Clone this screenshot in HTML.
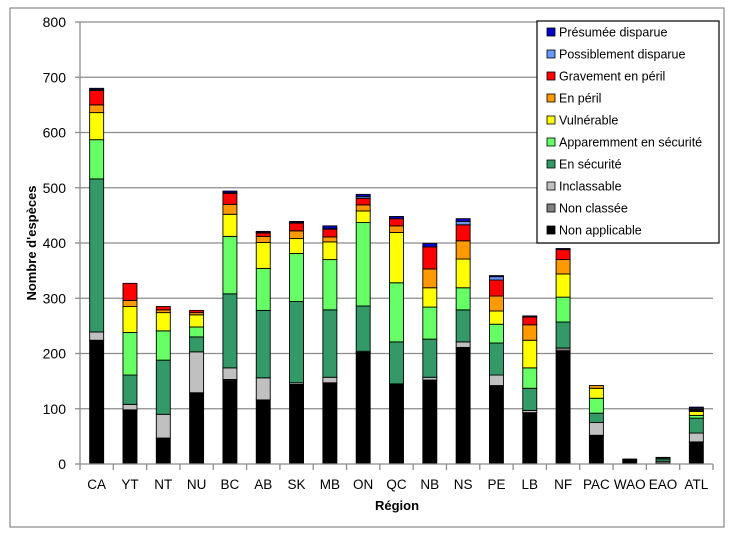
<!DOCTYPE html>
<html><head><meta charset="utf-8"><style>
body{margin:0;background:#fff;font-family:"Liberation Sans",sans-serif;}
svg text{font-family:"Liberation Sans",sans-serif;}
</style></head><body>
<svg id="chart" width="739" height="537" xmlns="http://www.w3.org/2000/svg">
<rect x="10" y="8" width="714" height="519" fill="#fff" stroke="#888" stroke-width="1.2"/>
<g id="grid"></g><g id="bars"></g><g id="axes"></g><g id="legend"></g>
<text x="36" y="243" transform="rotate(-90 36 243)" text-anchor="middle" font-size="13" font-weight="bold">Nombre d'espèces</text>
<text x="397" y="510" text-anchor="middle" font-size="13" font-weight="bold">Région</text>
</svg>
<script>
const categories=["CA","YT","NT","NU","BC","AB","SK","MB","ON","QC","NB","NS","PE","LB","NF","PAC","WAO","EAO","ATL"];
const seriesNames=["Non applicable","Non classée","Inclassable","En sécurité","Apparemment en sécurité","Vulnérable","En péril","Gravement en péril","Possiblement disparue","Présumée disparue"];
const seriesColors=["#000000","#808080","#c0c0c0","#339966","#66ff66","#ffff00","#ff9900","#ff0000","#6699ff","#0000cc"];
const nonApplicable=[224,98,47,129,151,116,144,147,201,145,152,211,142,93,205,52,9,2,40];
const nonClassee=[0,0,0,0,2,0,0,0,1,0,0,0,0,0,5,0,0,0,0];
const inclassable=[15,10,43,74,21,40,3,10,2,0,5,10,19,4,0,23,0,3,16];
const enSecurite=[277,53,98,27,134,122,147,122,82,76,69,58,58,40,47,17,0,4,27];
const apparemment=[71,77,53,18,104,76,87,91,151,107,58,40,34,37,45,27,0,2,5];
const vulnerable=[49,47,33,22,40,47,27,32,21,91,35,52,24,50,42,18,0,1,7];
const enPeril=[14,11,5,4,18,11,14,9,11,12,34,33,27,28,26,5,0,0,2];
const gravement=[26,31,6,4,20,6,14,14,12,13,40,29,29,14,18,0,0,0,2];
const possiblement=[2,0,0,0,1,1,1,1,3,0,0,6,6,0,0,0,0,0,2];
const presumee=[2,0,0,0,3,2,2,5,4,4,6,5,2,2,2,0,0,0,2];
const yTicks=[0,100,200,300,400,500,600,700,800];
const series=[nonApplicable,nonClassee,inclassable,enSecurite,apparemment,vulnerable,enPeril,gravement,possiblement,presumee];
const NS="http://www.w3.org/2000/svg";
const X0=80,X1=713,Y0=464,Y1=22,YMAX=800;
const band=(X1-X0)/categories.length;
function yScale(v){return Y0-(v/YMAX)*(Y0-Y1);}
function xCenter(i){return X0+band*(i+0.5);}
function mk(tag,attrs,parent){const e=document.createElementNS(NS,tag);for(const k in attrs)e.setAttribute(k,attrs[k]);parent.appendChild(e);return e;}
const grid=document.getElementById('grid'),bars=document.getElementById('bars'),axes=document.getElementById('axes'),legend=document.getElementById('legend');
yTicks.forEach(t=>{
  const y=yScale(t);
  if(t>0){const g=mk('line',{x1:X0,x2:X1,y1:y,y2:y,stroke:'#8c8c8c','stroke-width':1.3},grid);
  
  }
  mk('line',{x1:X0-5,x2:X0,y1:y,y2:y,stroke:'#8c8c8c','stroke-width':1.3},axes);
  const tx=mk('text',{x:66,y:y+5,'text-anchor':'end','font-size':14},axes);tx.textContent=t;
  
  
});
mk('line',{x1:X0,x2:X0,y1:Y1,y2:Y0,stroke:'#8c8c8c','stroke-width':1.3},axes);
mk('line',{x1:X0,x2:X1,y1:Y0,y2:Y0,stroke:'#8c8c8c','stroke-width':1.3},axes);
for(let i=0;i<=categories.length;i++){const x=X0+band*i;mk('line',{x1:x,x2:x,y1:Y0,y2:Y0+6,stroke:'#8c8c8c','stroke-width':1.3},axes);}
categories.forEach((c,i)=>{
  const tx=mk('text',{x:xCenter(i),y:489,'text-anchor':'middle','font-size':13.5},axes);tx.textContent=c;
  
  
  let cum=0;const w=14;
  series.forEach((s,k)=>{
    const v=s[i];if(v<=0)return;
    const ya=yScale(cum),yb=yScale(cum+v);cum+=v;
    const r=mk('rect',{x:xCenter(i)-w/2,y:yb,width:w,height:ya-yb,fill:seriesColors[k],stroke:'#000','stroke-width':0.9},bars);
    
    
  });
});
const lb=mk('rect',{x:537,y:21,width:182,height:222,fill:'#fff',stroke:'#000','stroke-width':1.2},legend);


for(let k=seriesNames.length-1,j=0;k>=0;k--,j++){
  const y=32+j*22;
  const sw=mk('rect',{x:547,y:y-4,width:8,height:8,fill:seriesColors[k],stroke:'#000','stroke-width':0.8},legend);
  
  
  const t=mk('text',{x:559,y:y+4.5,'font-size':12.5},legend);t.textContent=seriesNames[k];
  
  
}
</script>
</body></html>
